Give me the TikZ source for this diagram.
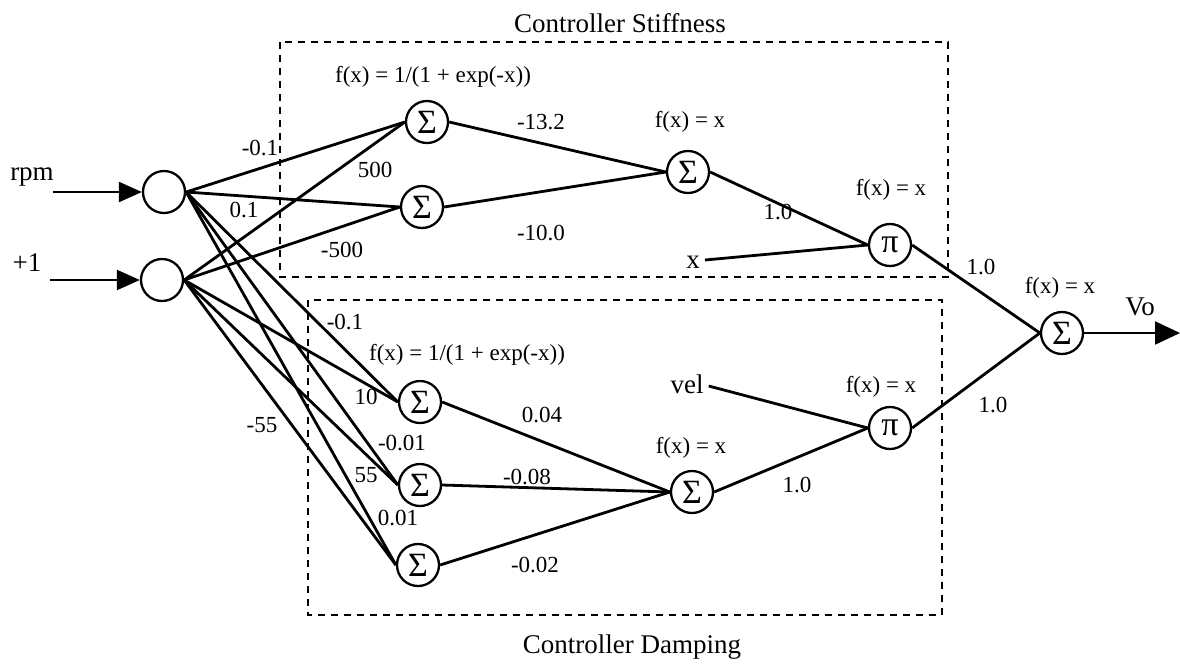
\documentclass[tikz,border=0pt]{standalone}
\usepackage{fontspec}
\setmainfont{Liberation Serif}
\usetikzlibrary{arrows.meta}
\begin{document}
\begin{tikzpicture}[x=1pt,y=-1pt,
  neuron/.style={circle,draw,line width=2.3pt,minimum size=42pt,inner sep=0pt,font=\fontsize{34}{34}\selectfont},
  inp/.style={circle,draw,line width=2.3pt,minimum size=42pt,inner sep=0pt},
  conn/.style={line width=2.8pt},
  wt/.style={font=\fontsize{23}{23}\selectfont,inner sep=0pt},
  fx/.style={font=\fontsize{23}{23}\selectfont,inner sep=0pt},
  ttl/.style={font=\fontsize{27}{27}\selectfont,inner sep=0pt},
  lbl/.style={font=\fontsize{27}{27}\selectfont,inner sep=0pt},
  boxline/.style={line width=2.6pt,dash pattern=on 7pt off 6pt},
  arr/.style={line width=2.2pt,-{Triangle[length=23pt,width=20pt]}}]
\useasboundingbox (0,0) rectangle (1180,665);

% dashed boxes
\draw[boxline] (280,42) rectangle (948,277);
\draw[boxline] (308,300) rectangle (942,615);
\node[ttl] (tstiff) at (620,23) {Controller Stiffness};
\node[ttl] (tdamp) at (632,647) {Controller Damping};

% inputs
\node[inp] (rpm) at (164,192) {};
\node[inp] (one) at (162,280) {};
\node[lbl] (rpmlab) at (32,177) {rpm};
\node[lbl] (onelab) at (27,263) {+1};
\coordinate (rpmsrc) at (53,192);
\coordinate (onesrc) at (50,280);
\draw[arr] (rpmsrc) -- (rpm.west);
\draw[arr] (onesrc) -- (one.west);

% neurons
\node[neuron] (s1) at (427,122) {Σ};
\node[neuron] (s2) at (422,207) {Σ};
\node[neuron] (s3) at (688,172) {Σ};
\node[neuron] (p1) at (890,245) {π};
\node[neuron] (l1) at (420,402) {Σ};
\node[neuron] (l2) at (420,485) {Σ};
\node[neuron] (l3) at (418,565) {Σ};
\node[neuron] (m) at (692,492) {Σ};
\node[neuron] (p2) at (890,428) {π};
\node[neuron] (out) at (1062,333) {Σ};

\node[lbl] (xlab) at (693,262) {x};
\node[lbl] (vel) at (687,384) {vel};
\coordinate (vout) at (1180,333);

% connections
\draw[conn] (rpm.east) -- (s1.west);
\draw[conn] (rpm.east) -- (s2.west);
\draw[conn] (one.east) -- (s1.west);
\draw[conn] (one.east) -- (s2.west);
\draw[conn] (rpm.east) -- (l1.west);
\draw[conn] (rpm.east) -- (l2.west);
\draw[conn] (rpm.east) -- (l3.west);
\draw[conn] (one.east) -- (l1.west);
\draw[conn] (one.east) -- (l2.west);
\draw[conn] (one.east) -- (l3.west);
\draw[conn] (s1.east) -- (s3.west);
\draw[conn] (s2.east) -- (s3.west);
\draw[conn] (s3.east) -- (p1.west);
\draw[conn] (xlab.east) ++(5,-2) -- (p1.west);
\draw[conn] (l1.east) -- (m.west);
\draw[conn] (l2.east) -- (m.west);
\draw[conn] (l3.east) -- (m.west);
\draw[conn] (m.east) -- (p2.west);
\draw[conn] (vel.east) ++(5,2) -- (p2.west);
\draw[conn] (p1.east) -- (out.west);
\draw[conn] (p2.east) -- (out.west);
\draw[line width=2.2pt,-{Triangle[length=25pt,width=23pt]}] (out.east) -- (vout);

% function labels
\node[fx] (f1) at (433,77) {f(x) = 1/(1 + exp(-x))};
\node[fx] (f2) at (690,122) {f(x) = x};
\node[fx] (f3) at (891,190) {f(x) = x};
\node[fx] (f4) at (1060,288) {f(x) = x};
\node[fx] (f5) at (467,355) {f(x) = 1/(1 + exp(-x))};
\node[fx] (f6) at (691,448) {f(x) = x};
\node[fx] (f7) at (881,387) {f(x) = x};
\node[lbl] (vo) at (1140,307) {Vo};

% weights
\node[wt] at (260,148) {-0.1};
\node[wt] at (375,170) {500};
\node[wt] at (244,210) {0.1};
\node[wt] at (342,250) {-500};
\node[wt] at (541,122) {-13.2};
\node[wt] at (541,233) {-10.0};
\node[wt] at (778,212) {1.0};
\node[wt] at (981,267) {1.0};
\node[wt] at (993,405) {1.0};
\node[wt] at (345,322) {-0.1};
\node[wt] at (366,397) {10};
\node[wt] at (402,443) {-0.01};
\node[wt] at (366,475) {55};
\node[wt] at (398,518) {0.01};
\node[wt] at (262,425) {-55};
\node[wt] at (542,415) {0.04};
\node[wt] at (527,477) {-0.08};
\node[wt] at (535,565) {-0.02};
\node[wt] at (797,485) {1.0};
\end{tikzpicture}
\end{document}
